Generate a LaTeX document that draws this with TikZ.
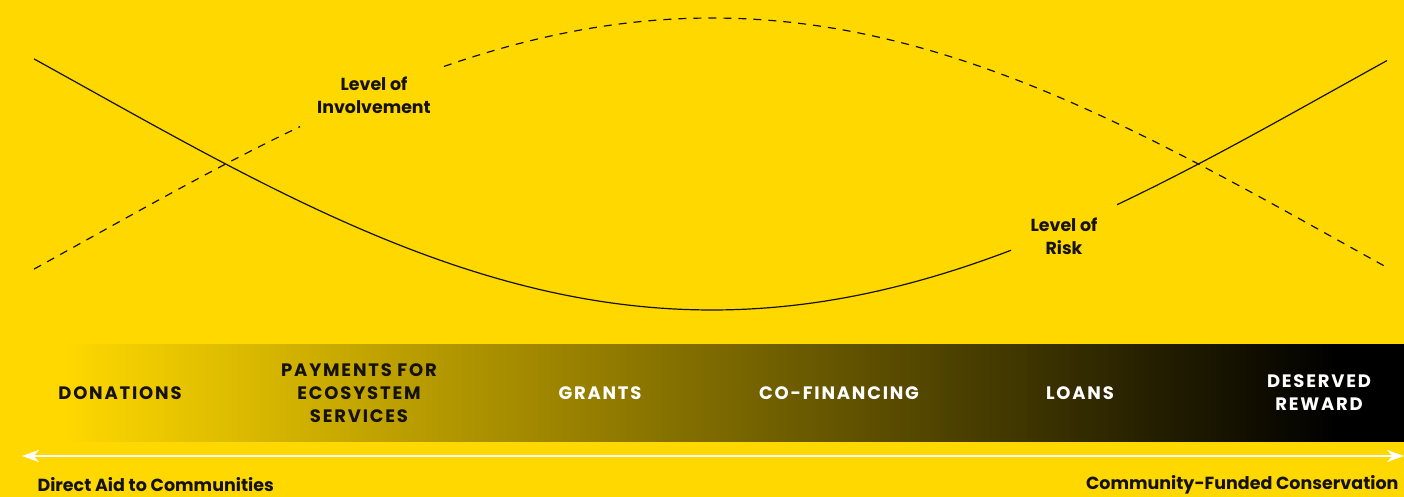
\documentclass[tikz,border=0pt]{standalone}
\usepackage{fontspec}
\setmainfont{Poppins}
\newfontfamily\bandfont[LetterSpace=10.0]{Poppins}
\usetikzlibrary{arrows.meta}
\definecolor{bgyellow}{RGB}{255,216,0}
\definecolor{inkblack}{RGB}{20,18,10}
\pgfdeclarehorizontalshading{fundband}{100bp}{color(0bp)=(bgyellow); color(25.5bp)=(bgyellow); color(72.5bp)=(black); color(100bp)=(black)}
\tikzset{
  curvelabel/.style={align=center, text=inkblack, font=\bfseries\fontsize{17.4}{23}\selectfont},
  bandlabel/.style={align=center, font=\bandfont\bfseries\fontsize{18}{23}\selectfont},
  endlabel/.style={text=inkblack, font=\bfseries\fontsize{17.5}{20}\selectfont},
  risk/.style={line width=1.2pt, inkblack},
  involve/.style={line width=1.2pt, inkblack, dash pattern=on 8pt off 7pt}
}
\begin{document}
\begin{tikzpicture}[x=1pt, y=-1pt]

\useasboundingbox (0,0) rectangle (1404,497);
\fill [bgyellow] (0,0) rectangle (1404,497);

\shade [shading=fundband] (50,344) rectangle (1404,441);

\draw [risk] plot[domain=34:1011, samples=90] (\x, {310-221.5*(1-cos(0.14408*(\x-712)))});
\draw [risk] plot[domain=1117:1387, samples=30] (\x, {310-221.5*(1-cos(0.14408*(\x-712)))});
\draw [involve] plot[domain=34:300, samples=30] (\x, {18+221.5*(1-cos(0.14408*(\x-712)))});
\draw [involve] plot[domain=444:1387, samples=90] (\x, {18+221.5*(1-cos(0.14408*(\x-712)))});

\node (involvement) [curvelabel] at (374,95) {Level of\\Involvement};
\node (risk) [curvelabel] at (1064,236) {Level of\\Risk};

\node (donations) [bandlabel, text=inkblack] at (120,393) {DONATIONS};
\node (payments) [bandlabel, text=inkblack] at (359,393) {PAYMENTS FOR\\ECOSYSTEM\\SERVICES};
\node (grants) [bandlabel, text=white] at (600,393) {GRANTS};
\node (cofinancing) [bandlabel, text=white] at (839,393) {CO-FINANCING};
\node (loans) [bandlabel, text=white] at (1080,393) {LOANS};
\node (reward) [bandlabel, text=white] at (1319,393) {DESERVED\\REWARD};

\coordinate (aidend) at (22,456);
\coordinate (fundedend) at (1404,456);
\draw [white, line width=2.2pt, {Stealth[length=17pt,width=12pt]}-{Stealth[length=17pt,width=12pt]}] (aidend) -- (fundedend);

\node (aid) [endlabel, anchor=west] at (34,485) {Direct Aid to Communities};
\node (funded) [endlabel, anchor=east] at (1402,485) {Community-Funded Conservation};
\end{tikzpicture}
\end{document}
